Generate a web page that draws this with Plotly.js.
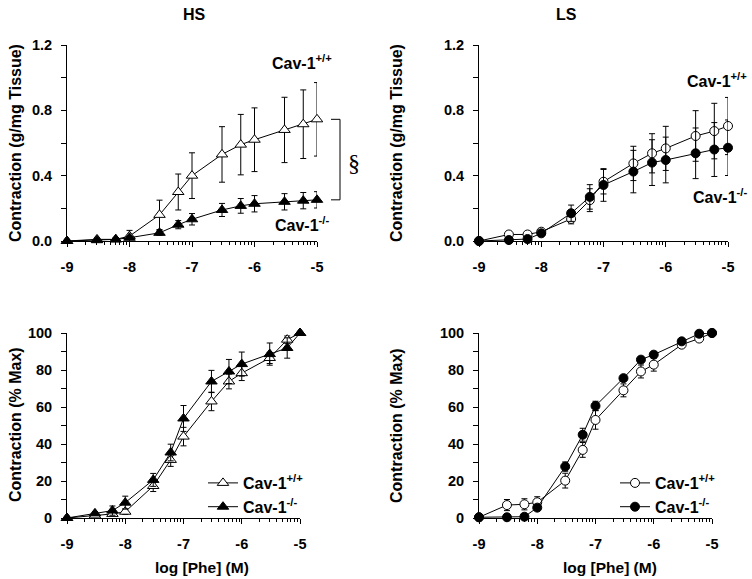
<!DOCTYPE html>
<html><head><meta charset="utf-8">
<script src="https://cdn.plot.ly/plotly-3.0.1.min.js"></script>
<style>body{margin:0;background:#fff}</style>
</head><body><div id="chart" style="width:752px;height:579px"></div>
<script>
// log [Phe] (M)
const logPhe = [-9, -8.52, -8.22, -8, -7.52, -7.22, -7, -6.52, -6.22, -6, -5.52, -5.22, -5];
const xTickVals = [-9, -8, -7, -6, -5];
const xTickText = ['-9', '-8', '-7', '-6', '-5'];

// HS, absolute contraction (g/mg tissue)
const hsWtAbs    = [0, 0.01, 0.01, 0.03, 0.16, 0.30, 0.40, 0.53, 0.59, 0.62, 0.68, 0.715, 0.745];
const hsWtAbsErr = [0, 0.005, 0.01, 0.035, 0.09, 0.11, 0.14, 0.17, 0.185, 0.195, 0.20, 0.21, 0.225];
const hsKoAbs    = [0, 0.005, 0.01, 0.02, 0.05, 0.10, 0.133, 0.19, 0.215, 0.228, 0.24, 0.247, 0.252];
const hsKoAbsErr = [0, 0.005, 0.01, 0.01, 0.015, 0.025, 0.035, 0.04, 0.045, 0.05, 0.05, 0.05, 0.05];

// LS, absolute contraction (g/mg tissue)
const lsWtAbs    = [0, 0.04, 0.04, 0.057, 0.135, 0.25, 0.363, 0.475, 0.537, 0.567, 0.643, 0.673, 0.704];
const lsWtAbsErr = [0, 0.01, 0.01, 0.01, 0.03, 0.07, 0.075, 0.105, 0.12, 0.135, 0.155, 0.17, 0.175];
const lsKoAbs    = [0, 0.006, 0.012, 0.047, 0.17, 0.27, 0.343, 0.425, 0.48, 0.496, 0.537, 0.56, 0.571];
const lsKoAbsErr = [0, 0.005, 0.005, 0.01, 0.05, 0.075, 0.1, 0.13, 0.14, 0.14, 0.155, 0.165, 0.17];

// HS, % Max
const hsWtPct    = [0, 1.4, 2.2, 3.4, 17.3, 31.4, 44, 63, 73.8, 78.3, 86.5, 96.4, 100];
const hsWtPctErr = [0, 0.8, 1, 1.5, 3, 3.5, 5, 5, 4, 4, 3, 2, 0];
const hsKoPct    = [0, 2.5, 4, 8.3, 20.6, 35.4, 53.8, 73.8, 79.2, 83.2, 88.6, 91.9, 100];
const hsKoPctErr = [0, 1, 2.5, 3.5, 3.5, 4.5, 7, 6, 6.5, 6.5, 6, 5.5, 0];

// LS, % Max
const lsWtPct    = [0.4, 7, 7.4, 8.5, 20.2, 36.8, 53, 69, 79.2, 82.9, 93.7, 97, 100];
const lsWtPctErr = [0, 3, 3, 3, 4, 4, 5, 3.5, 3.5, 3.5, 1.5, 1.5, 0];
const lsKoPct    = [0.4, 0.4, 0.7, 5.6, 27.8, 45, 60.6, 75.6, 85.6, 88.3, 95.5, 99.6, 100];
const lsKoPctErr = [0, 0.3, 0.3, 1, 2.5, 3.5, 2.5, 1.5, 1.5, 1.5, 1, 1, 0];

const wtName = 'Cav-1<sup>+/+</sup>';
const koName = 'Cav-1<sup>-/-</sup>';

const FONT = 'Arial, "Liberation Sans", sans-serif';
const W = 752, H = 579;
const px = v => v / W;
const py = v => 1 - v / H;

function err(arr) {
  return {type: 'data', array: arr, visible: true, color: '#000', thickness: 1, width: 3};
}
function tr(y, e, xa, ya, name, symbol, filled, legend, show) {
  return {
    x: logPhe, y: y, xaxis: xa, yaxis: ya, name: name, type: 'scatter',
    mode: 'lines+markers', cliponaxis: false,
    line: {color: '#000', width: 1},
    marker: {symbol: symbol, size: symbol.indexOf('triangle') === 0 ? 10 : 9,
             color: filled ? '#000' : '#fff', line: {color: '#000', width: 1}},
    error_y: err(e), showlegend: show, legend: legend
  };
}

const data = [
  tr(hsWtAbs, hsWtAbsErr, 'x', 'y', wtName, 'triangle-up', false, 'legend', false),
  tr(hsKoAbs, hsKoAbsErr, 'x', 'y', koName, 'triangle-up', true, 'legend', false),
  tr(lsWtAbs, lsWtAbsErr, 'x2', 'y2', wtName, 'circle', false, 'legend2', false),
  tr(lsKoAbs, lsKoAbsErr, 'x2', 'y2', koName, 'circle', true, 'legend2', false),
  tr(hsWtPct, hsWtPctErr, 'x3', 'y3', wtName, 'triangle-up', false, 'legend', true),
  tr(hsKoPct, hsKoPctErr, 'x3', 'y3', koName, 'triangle-up', true, 'legend', true),
  tr(lsWtPct, lsWtPctErr, 'x4', 'y4', wtName, 'circle', false, 'legend2', true),
  tr(lsKoPct, lsKoPctErr, 'x4', 'y4', koName, 'circle', true, 'legend2', true)
];

const minorX = [];
for (let d = -9; d < -5; d++) for (let k = 2; k <= 9; k++) minorX.push(d + Math.log10(k));

const tickFont = {family: FONT, size: 14.5, color: '#000', weight: 'bold'};
function xax(dom, anchor) {
  return {
    domain: dom, anchor: anchor, range: [-9, -5], tickmode: 'array',
    tickvals: xTickVals, ticktext: xTickText, showline: true, linecolor: '#000',
    linewidth: 1, ticks: 'outside', ticklen: 5, tickwidth: 1, tickcolor: '#000',
    showgrid: false, zeroline: false, tickfont: tickFont, ticklabelstandoff: 8,
    minor: {tickmode: 'array', tickvals: minorX, ticks: 'outside', ticklen: 3,
            tickwidth: 1, tickcolor: '#000', showgrid: false}
  };
}
function yax(dom, anchor, range, dtick, minorD, fmt) {
  return {
    domain: dom, anchor: anchor, range: range, tickmode: 'linear', tick0: 0,
    dtick: dtick, tickformat: fmt, showline: true, linecolor: '#000', linewidth: 1,
    ticks: 'outside', ticklen: 5, tickwidth: 1, tickcolor: '#000',
    showgrid: false, zeroline: false, tickfont: tickFont, ticklabelstandoff: 6,
    minor: {tickmode: 'linear', tick0: 0, dtick: minorD, ticks: 'outside', ticklen: 5,
            tickwidth: 1, tickcolor: '#000', showgrid: false}
  };
}

const topY = [py(241), py(45)];
const botY = [py(518), py(333)];

function ann(text, x, y, size, extra) {
  return Object.assign({text: text, x: px(x), y: py(y), xref: 'paper', yref: 'paper',
    showarrow: false, font: {family: FONT, size: size, color: '#000', weight: 'bold'},
    xanchor: 'center', yanchor: 'middle'}, extra || {});
}

const lastWt = hsWtAbs[hsWtAbs.length - 1];
const lastKo = hsKoAbs[hsKoAbs.length - 1];
const legFont = {family: FONT, size: 16, color: '#000', weight: 'bold'};

const layout = {
  width: W, height: H, autosize: false,
  margin: {l: 0, r: 0, t: 0, b: 0},
  paper_bgcolor: '#fff', plot_bgcolor: '#fff',
  font: {family: FONT, color: '#000'},
  xaxis: xax([px(67), px(317)], 'y'),
  yaxis: yax(topY, 'x', [0, 1.2], 0.4, 0.2, '.1f'),
  xaxis2: xax([px(479), px(728)], 'y2'),
  yaxis2: yax(topY, 'x2', [0, 1.2], 0.4, 0.2, '.1f'),
  xaxis3: xax([px(67), px(300)], 'y3'),
  yaxis3: yax(botY, 'x3', [0, 100], 20, 10, 'd'),
  xaxis4: xax([px(479), px(712)], 'y4'),
  yaxis4: yax(botY, 'x4', [0, 100], 20, 10, 'd'),
  legend: {x: px(203), y: py(466), xanchor: 'left', yanchor: 'top',
           bgcolor: 'rgba(0,0,0,0)', font: legFont, itemwidth: 30, tracegroupgap: 0},
  legend2: {x: px(615), y: py(466), xanchor: 'left', yanchor: 'top',
            bgcolor: 'rgba(0,0,0,0)', font: legFont, itemwidth: 30, tracegroupgap: 0},
  shapes: [
    {type: 'path', xref: 'paper', yref: 'y',
     path: 'M ' + px(331) + ',' + lastWt + ' L ' + px(340) + ',' + lastWt +
           ' L ' + px(340) + ',' + lastKo + ' L ' + px(331) + ',' + lastKo,
     line: {color: '#000', width: 1}}
  ],
  annotations: [
    ann('HS', 194, 15, 16),
    ann('LS', 566, 15, 16),
    ann(wtName, 302, 62, 16),
    ann(koName, 302, 224, 16),
    ann('§', 354, 163, 24, {font: {family: '"Liberation Serif", "DejaVu Serif", serif', size: 24, color: '#000'}}),
    ann(wtName, 717, 80, 16),
    ann(koName, 720, 196, 16),
    ann('Contraction (g/mg Tissue)', 15, 143, 16, {textangle: -90}),
    ann('Contraction (g/mg Tissue)', 396, 143, 16, {textangle: -90}),
    ann('Contraction (% Max)', 15, 425, 16, {textangle: -90}),
    ann('Contraction (% Max)', 396, 425, 16, {textangle: -90}),
    ann('log [Phe] (M)', 202, 567, 15.5),
    ann('log [Phe] (M)', 610, 567, 15.5)
  ]
};

Plotly.newPlot('chart', data, layout, {displayModeBar: false, staticPlot: true});
</script>
</body></html>
